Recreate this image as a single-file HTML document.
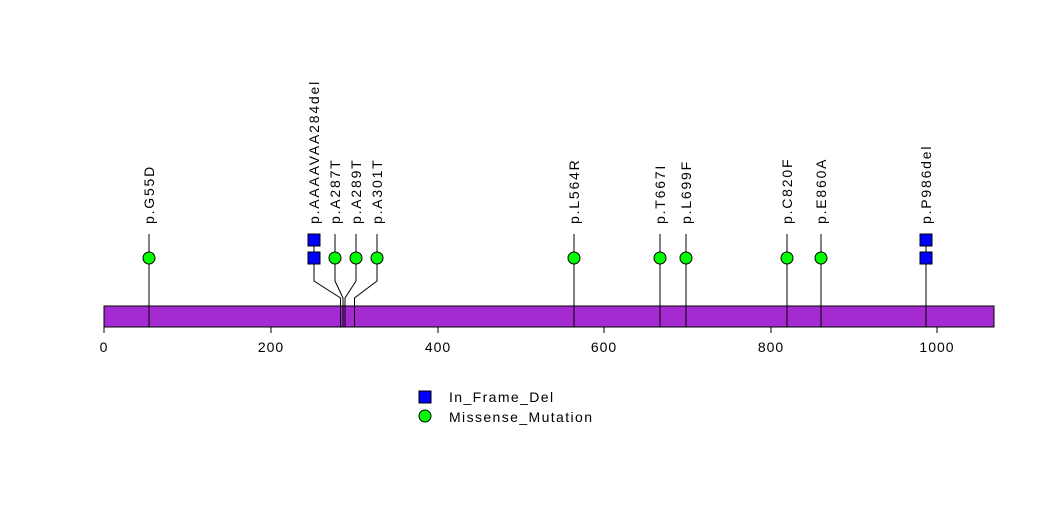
<!DOCTYPE html>
<html><head><style>body{margin:0;background:#fff}</style></head><body>
<svg width="1047" height="524" xmlns="http://www.w3.org/2000/svg" font-family="Liberation Sans, sans-serif">
<rect width="1047" height="524" fill="#fff"/>
<rect x="104" y="306" width="890" height="21" fill="#a42ad2" stroke="#000" stroke-width="1"/>
<g stroke="#000" stroke-width="1" fill="none">
<line x1="104" y1="327" x2="937" y2="327"/>
<line x1="104" y1="327" x2="104" y2="333"/><line x1="271" y1="327" x2="271" y2="333"/><line x1="438" y1="327" x2="438" y2="333"/><line x1="604" y1="327" x2="604" y2="333"/><line x1="771" y1="327" x2="771" y2="333"/><line x1="937" y1="327" x2="937" y2="333"/>
<line x1="149" y1="327" x2="149" y2="234"/>
<line x1="574" y1="327" x2="574" y2="234"/>
<line x1="660" y1="327" x2="660" y2="234"/>
<line x1="686" y1="327" x2="686" y2="234"/>
<line x1="787" y1="327" x2="787" y2="234"/>
<line x1="821" y1="327" x2="821" y2="234"/>
<line x1="926" y1="327" x2="926" y2="234"/>
<polyline points="340.5,327 340.5,298 314,281 314,234"/>
<polyline points="343,327 343,298 335,281 335,234"/>
<polyline points="345,327 345,298 356,281 356,234"/>
<polyline points="354.5,327 354.5,298 377,281 377,234"/>
</g>
<g fill="#00ff00" stroke="#000" stroke-width="1">
<circle cx="149" cy="258" r="6"/><circle cx="335" cy="258" r="6"/><circle cx="356" cy="258" r="6"/><circle cx="377" cy="258" r="6"/><circle cx="574" cy="258" r="6"/><circle cx="660" cy="258" r="6"/><circle cx="686" cy="258" r="6"/><circle cx="787" cy="258" r="6"/><circle cx="821" cy="258" r="6"/>
<circle cx="425" cy="416" r="6"/>
</g>
<g fill="#0000ff" stroke="#000" stroke-width="1">
<rect x="308" y="252" width="12" height="12"/><rect x="308" y="234" width="12" height="12"/>
<rect x="920" y="252" width="12" height="12"/><rect x="920" y="234" width="12" height="12"/>
<rect x="419" y="391" width="12" height="12"/>
</g>
<g font-size="14" fill="#000" letter-spacing="1">
<text x="104" y="352" text-anchor="middle">0</text><text x="271" y="352" text-anchor="middle">200</text><text x="438" y="352" text-anchor="middle">400</text><text x="604" y="352" text-anchor="middle">600</text><text x="771" y="352" text-anchor="middle">800</text><text x="937" y="352" text-anchor="middle">1000</text>
</g>
<g font-size="14" fill="#000" letter-spacing="1.4">
<text x="449" y="402">In_Frame_Del</text>
<text x="449" y="422">Missense_Mutation</text>
</g>
<g font-size="14" fill="#000" letter-spacing="1.8">
<text transform="translate(154,224) rotate(-90)">p.G55D</text>
<text transform="translate(319,224) rotate(-90)">p.AAAAVAA284del</text>
<text transform="translate(340,224) rotate(-90)">p.A287T</text>
<text transform="translate(361,224) rotate(-90)">p.A289T</text>
<text transform="translate(382,224) rotate(-90)">p.A301T</text>
<text transform="translate(579,224) rotate(-90)">p.L564R</text>
<text transform="translate(665,224) rotate(-90)">p.T667I</text>
<text transform="translate(691,224) rotate(-90)">p.L699F</text>
<text transform="translate(792,224) rotate(-90)">p.C820F</text>
<text transform="translate(826,224) rotate(-90)">p.E860A</text>
<text transform="translate(931,224) rotate(-90)">p.P986del</text>
</g>
</svg>
</body></html>
